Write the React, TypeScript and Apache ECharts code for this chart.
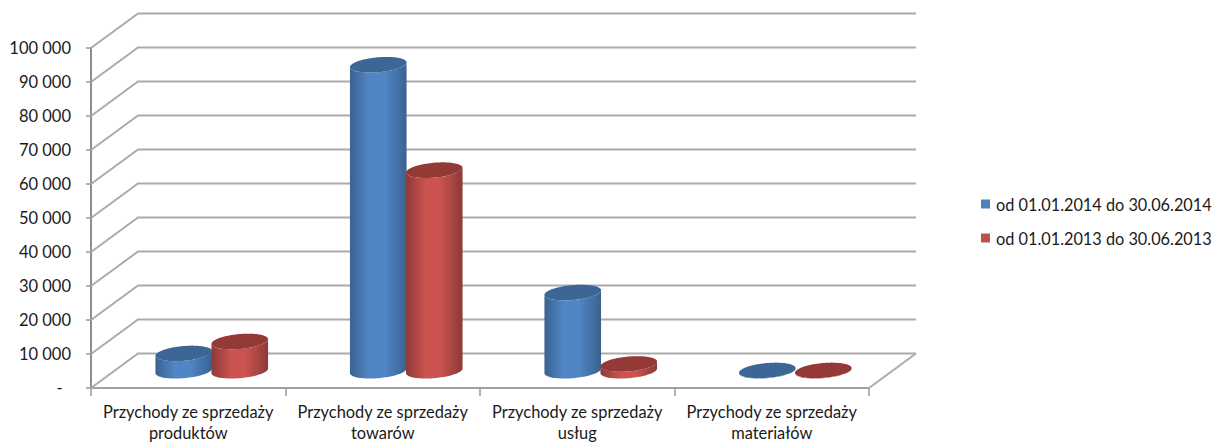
import React, { useEffect, useRef } from "react";
import * as echarts from "echarts";

const categories = [
  "Przychody ze sprzedaży\nproduktów",
  "Przychody ze sprzedaży\ntowarów",
  "Przychody ze sprzedaży\nusług",
  "Przychody ze sprzedaży\nmateriałów",
];
const series2014Name = "od 01.01.2014 do 30.06.2014";
const series2013Name = "od 01.01.2013 do 30.06.2013";
const values2014 = [5100, 90000, 23000, 100];
const values2013 = [8600, 59000, 2000, 100];
const yTicks = [0, 10000, 20000, 30000, 40000, 50000, 60000, 70000, 80000, 90000, 100000];

const DEPTH_X = 47;
const DEPTH_Y = 34.5;
const RX = 27;
const DX = 8.5;
const DY = 7.8;
const OFFSET = 28;

const t0 = Math.atan2(DX, RX);
const ellipsePoint = (cx: number, cy: number, t: number) => [
  cx + RX * Math.cos(t) + DX * Math.sin(t),
  cy - DY * Math.sin(t),
];

const makeCylinderRender = (side: number, edge: string, mid: string, cap: string) => (_p: any, api: any) => {
  const cat = api.value(0);
  const v = api.value(1);
  const base = api.coord([cat, 0]);
  const top = api.coord([cat, v]);
  const cx = base[0] + DEPTH_X / 2 + side * OFFSET;
  const by = base[1] - DEPTH_Y / 2;
  const ty = top[1] - DEPTH_Y / 2;
  const body: number[][] = [];
  const capPts: number[][] = [];
  const n = 48;
  for (let i = 0; i <= n; i++) body.push(ellipsePoint(cx, by, t0 - (Math.PI * i) / n));
  for (let i = 0; i <= n; i++) body.push(ellipsePoint(cx, ty, t0 - Math.PI + (Math.PI * i) / n));
  for (let i = 0; i < n * 2; i++) capPts.push(ellipsePoint(cx, ty, (Math.PI * i) / n));
  return {
    type: "group",
    children: [
      {
        type: "polygon",
        shape: { points: body },
        style: {
          fill: new echarts.graphic.LinearGradient(0, 0, 1, 0, [
            { offset: 0, color: edge },
            { offset: 0.35, color: mid },
            { offset: 0.6, color: mid },
            { offset: 1, color: edge },
          ]),
        },
      },
      { type: "polygon", shape: { points: capPts }, style: { fill: cap } },
    ],
  };
};

const renderWall = (params: any, api: any) => {
  const v = api.value(1);
  const cs = params.coordSys;
  const y = api.coord([0, v])[1];
  const left = cs.x;
  const right = cs.x + cs.width;
  const stroke = "#ABABAB";
  const children: any[] = [
    {
      type: "polyline",
      shape: { points: [[left, y], [left + DEPTH_X, y - DEPTH_Y], [right + DEPTH_X, y - DEPTH_Y]] },
      style: { stroke, lineWidth: 2, fill: "none" },
    },
  ];
  if (v === 0) {
    children.push({
      type: "line",
      shape: { x1: right, y1: y, x2: right + DEPTH_X, y2: y - DEPTH_Y },
      style: { stroke, lineWidth: 2 },
    });
  }
  return { type: "group", children };
};

export default function App() {
  const ref = useRef<HTMLDivElement>(null);
  useEffect(() => {
    document.body.style.margin = "0";
    const chart = echarts.init(ref.current!, null, { renderer: "svg" });
    const font = "Lato";
    chart.setOption({
      animation: false,
      backgroundColor: "#ffffff",
      grid: { left: 91, top: 48, width: 778, height: 340, containLabel: false },
      legend: {
        orient: "vertical",
        left: 976,
        top: 191,
        itemWidth: 9,
        itemHeight: 9,
        itemGap: 18,
        icon: "rect",
        data: [series2014Name, series2013Name],
        textStyle: { fontFamily: font, fontSize: 16.3, color: "#1a1a1a", padding: [0, 0, 0, 1] },
      },
      xAxis: {
        type: "category",
        data: categories,
        boundaryGap: true,
        axisLine: { show: true, lineStyle: { color: "#A0A0A0", width: 2 } },
        axisTick: { show: true, length: 8, alignWithLabel: false, lineStyle: { color: "#9A9A9A", width: 1.5 } },
        axisLabel: {
          interval: 0,
          margin: 13,
          fontFamily: font,
          fontSize: 16.4,
          lineHeight: 21,
          color: "#1a1a1a",
        },
        splitLine: { show: false },
      },
      yAxis: {
        type: "value",
        min: 0,
        max: 100000,
        interval: 10000,
        axisLine: { show: true, lineStyle: { color: "#8E8E8E", width: 2 } },
        axisTick: { show: true, length: 5, lineStyle: { color: "#9A9A9A", width: 1.5 } },
        axisLabel: {
          margin: 20,
          fontFamily: font,
          fontSize: 16.5,
          color: "#1a1a1a",
          formatter: (v: number) => (v === 0 ? "-\u00a0\u00a0" : `${v / 1000} 000`),
        },
        splitLine: { show: false },
      },
      series: [
        {
          type: "custom",
          name: "wall",
          coordinateSystem: "cartesian2d",
          clip: false,
          silent: true,
          encode: { x: 0, y: 1 },
          data: yTicks.map((v) => [0, v]),
          renderItem: renderWall,
          z: 1,
        },
        {
          type: "custom",
          name: series2014Name,
          coordinateSystem: "cartesian2d",
          clip: false,
          encode: { x: 0, y: 1 },
          itemStyle: { color: "#4F81BD" },
          data: values2014.map((v, i) => [i, v]),
          renderItem: makeCylinderRender(-1, "#3A6290", "#5186C6", "#3B6695"),
          z: 3,
        },
        {
          type: "custom",
          name: series2013Name,
          coordinateSystem: "cartesian2d",
          clip: false,
          encode: { x: 0, y: 1 },
          itemStyle: { color: "#C0504D" },
          data: values2013.map((v, i) => [i, v]),
          renderItem: makeCylinderRender(1, "#8C3A37", "#CB5350", "#933A37"),
          z: 4,
        },
      ],
    });
    return () => chart.dispose();
  }, []);
  return <div ref={ref} style={{ width: 1224, height: 445 }} />;
}
